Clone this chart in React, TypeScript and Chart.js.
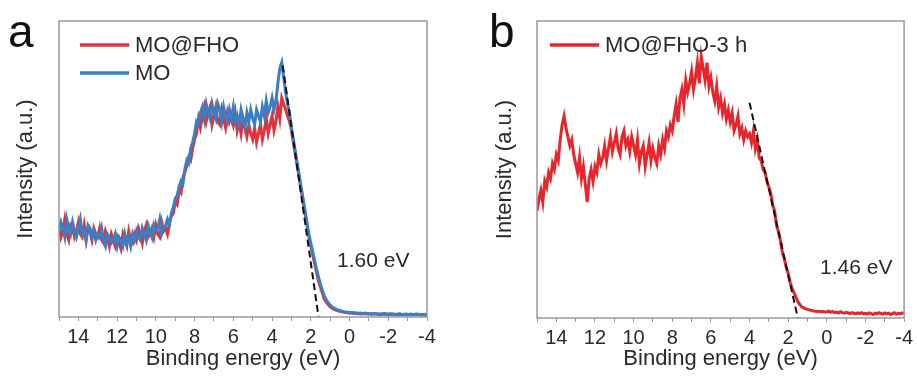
import React, { useEffect, useRef } from 'react';
import { Chart, registerables } from 'chart.js';
Chart.register(...registerables);

// Binding energy sampling grid (eV), 15 -> -4
const ENERGY = [
  15.0, 14.9, 14.8, 14.7, 14.6, 14.5, 14.4, 14.3, 14.2, 14.1,
  14.0, 13.9, 13.8, 13.7, 13.6, 13.5, 13.4, 13.3, 13.2, 13.1,
  13.0, 12.9, 12.8, 12.7, 12.6, 12.5, 12.4, 12.3, 12.2, 12.1,
  12.0, 11.9, 11.8, 11.7, 11.6, 11.5, 11.4, 11.3, 11.2, 11.1,
  11.0, 10.9, 10.8, 10.7, 10.6, 10.5, 10.4, 10.3, 10.2, 10.1,
  10.0, 9.9, 9.8, 9.7, 9.6, 9.5, 9.4, 9.3, 9.2, 9.1,
  9.0, 8.9, 8.8, 8.7, 8.6, 8.5, 8.4, 8.3, 8.2, 8.1,
  8.0, 7.9, 7.8, 7.7, 7.6, 7.5, 7.4, 7.3, 7.2, 7.1,
  7.0, 6.9, 6.8, 6.7, 6.6, 6.5, 6.4, 6.3, 6.2, 6.1,
  6.0, 5.9, 5.8, 5.7, 5.6, 5.5, 5.4, 5.3, 5.2, 5.1,
  5.0, 4.9, 4.8, 4.7, 4.6, 4.5, 4.4, 4.3, 4.2, 4.1,
  4.0, 3.9, 3.8, 3.7, 3.6, 3.5, 3.4, 3.3, 3.2, 3.1,
  3.0, 2.9, 2.8, 2.7, 2.6, 2.5, 2.4, 2.3, 2.2, 2.1,
  2.0, 1.9, 1.8, 1.7, 1.6, 1.5, 1.4, 1.3, 1.2, 1.1,
  1.0, 0.9, 0.8, 0.7, 0.6, 0.5, 0.4, 0.3, 0.2, 0.1,
  0.0, -0.1, -0.2, -0.3, -0.4, -0.5, -0.6, -0.7, -0.8, -0.9,
  -1.0, -1.1, -1.2, -1.3, -1.4, -1.5, -1.6, -1.7, -1.8, -1.9,
  -2.0, -2.1, -2.2, -2.3, -2.4, -2.5, -2.6, -2.7, -2.8, -2.9,
  -3.0, -3.1, -3.2, -3.3, -3.4, -3.5, -3.6, -3.7, -3.8, -3.9,
  -4.0,
];

// Panel a: MO@FHO
const MO_FHO = [
  31, 27, 29, 33, 28, 26, 31, 30, 27, 29,
  32, 28, 27, 31, 26, 30, 29, 26, 30, 28,
  27, 30, 26, 25, 29, 27, 24, 28, 26, 24,
  27, 25, 23, 28, 26, 24, 29, 26, 25, 28,
  26, 30, 28, 25, 29, 31, 27, 28, 30, 27,
  31, 28, 27, 32, 29, 30, 28, 32, 34, 35,
  39, 38, 43, 42, 47, 49, 51, 54, 53, 57,
  60, 62, 67, 64, 68, 71, 66, 69, 71, 65,
  68, 71, 66, 65, 70, 67, 64, 69, 66, 68,
  65, 69, 63, 66, 62, 67, 64, 61, 65, 62,
  60, 64, 59, 62, 65, 60, 63, 67, 62, 65,
  68, 63, 66, 71, 67, 74, 72, 70, 68, 66,
  63, 59, 55, 51, 47, 43, 39, 35, 31, 27,
  24, 21, 18, 15, 12, 10, 8, 6, 5, 4.2,
  3.4, 3.0, 2.6, 2.3, 2.1, 1.9, 1.8, 1.6, 1.5, 1.4,
  1.3, 1.4, 1.2, 1.3, 1.1, 1.2, 1.0, 1.2, 1.1, 1.0,
  1.1, 0.9, 1.0, 1.1, 0.9, 1.0, 0.8, 1.0, 0.9, 1.0,
  0.8, 0.9, 1.0, 0.8, 0.9, 0.7, 0.9, 0.8, 0.9, 0.7,
  0.8, 0.9, 0.7, 0.8, 0.9, 0.7, 0.8, 0.6, 0.8, 0.7,
  0.7,
];

// Panel a: MO
const MO = [
  29, 32, 30, 27, 33, 30, 28, 32, 29, 27,
  30, 33, 28, 29, 26, 31, 30, 27, 29, 26,
  28, 27, 30, 26, 24, 28, 27, 25, 26, 28,
  24, 27, 26, 24, 28, 25, 27, 24, 28, 26,
  29, 27, 26, 30, 28, 26, 31, 29, 27, 31,
  29, 30, 33, 28, 30, 31, 33, 31, 35, 37,
  40, 41, 44, 46, 45, 50, 53, 52, 57, 59,
  62, 66, 65, 69, 71, 67, 72, 69, 67, 72,
  69, 67, 72, 70, 66, 71, 68, 66, 70, 67,
  71, 66, 68, 65, 70, 67, 64, 69, 66, 70,
  67, 65, 70, 68, 66, 71, 68, 73, 69, 71,
  74, 70, 73, 79, 84, 86, 81, 76, 72, 69,
  64, 60, 56, 52, 48, 44, 40, 36, 32, 28,
  25, 22, 19, 16, 13.5, 11, 9, 7, 5.8, 4.8,
  4.0, 3.4, 3.0, 2.6, 2.4, 2.2, 2.0, 1.8, 1.7, 1.6,
  1.5, 1.4, 1.5, 1.3, 1.4, 1.2, 1.3, 1.1, 1.3, 1.2,
  1.1, 1.2, 1.0, 1.2, 1.1, 0.9, 1.1, 1.0, 1.2, 0.9,
  1.0, 1.1, 0.9, 1.0, 0.8, 1.0, 1.1, 0.9, 0.8, 1.0,
  0.9, 0.8, 1.0, 0.8, 0.9, 1.0, 0.8, 0.9, 0.7, 0.9,
  0.8,
];

// Panel b: MO@FHO-3 h
const MO_FHO_3H = [
  36, 40, 43, 39, 46, 44, 49, 47, 52, 50,
  55, 53, 60, 65, 68, 64, 61, 58, 60, 55,
  52, 49, 54, 47, 51, 45, 39, 47, 50, 46,
  51, 49, 55, 52, 54, 58, 53, 57, 61, 56,
  59, 62, 57, 55, 61, 63, 58, 60, 56, 61,
  58, 55, 60, 52, 56, 58, 51, 55, 59, 53,
  57, 54, 52, 58, 55, 60, 57, 63, 61, 65,
  63, 68, 72, 66, 74, 77, 72, 80, 76, 79,
  83, 77, 81, 86, 79, 88, 84, 80, 86, 78,
  81, 76, 73, 78, 71, 74, 69, 72, 67, 70,
  66, 69, 63, 65, 68, 62, 64, 60, 63, 61,
  62, 59, 63, 57, 60, 54, 53, 50, 49, 46,
  44, 42, 38, 36, 31, 29, 26, 22, 20, 17,
  15, 12, 10, 8.5, 7, 5.5, 4.5, 3.8, 3.4, 3.1,
  2.9, 2.7, 2.6, 2.4, 2.3, 2.2, 2.3, 2.1, 2.2, 2.0,
  2.1, 2.3, 1.9, 2.2, 1.8, 2.0, 1.7, 2.1, 1.8, 1.6,
  1.9, 1.7, 1.5, 1.8, 1.6, 1.4, 1.7, 1.5, 1.8, 1.4,
  1.6, 1.3, 1.7, 1.5, 1.2, 1.6, 1.4, 1.8, 1.5, 1.3,
  1.7, 1.4, 1.6, 1.2, 1.5, 1.8, 1.3, 1.6, 1.4, 1.7,
  1.5,
];

// Linear-edge extrapolation (dashed) lines
const TANGENT_A_X = [3.45, 1.6];
const TANGENT_A_Y = [85, 0];
const TANGENT_B_X = [4.0, 1.5];
const TANGENT_B_Y = [72.5, 0];

const X_TICK_LABELS = [14, 12, 10, 8, 6, 4, 2, 0, -2, -4];
const GAP_LABELS = ['1.60 eV', '1.46 eV'];
const PANEL_LABELS = ['a', 'b'];
const SERIES_LABELS = ['MO@FHO', 'MO', 'MO@FHO-3 h'];

const FONT = "'Liberation Sans', Arial, sans-serif";
const TEXT = '#2a2a2a';
const FRAME = '#9a9a9a';
const RED_A = '#e0333a';
const BLUE = '#3a7ec6';
const RED_B = '#e8252b';

const pts = (xs: number[], ys: number[]) => xs.map((x, i) => ({ x, y: ys[i] }));

type PanelCfg = {
  letter: string;
  letterX: number;
  gap: string;
  gapX: number;
  gapY: number;
  yAxisWidth: number;
  xAxisHeight: number;
  rightPad: number;
  yTitlePad: number;
  legendX: number;
  datasets: any[];
};

function makeConfig(p: PanelCfg): any {
  const decor = {
    id: 'decor',
    afterDraw(chart: any) {
      const { ctx, chartArea } = chart;
      ctx.save();
      // frame
      ctx.strokeStyle = FRAME;
      ctx.lineWidth = 1.5;
      ctx.strokeRect(chartArea.left, chartArea.top, chartArea.right - chartArea.left, chartArea.bottom - chartArea.top);
      // panel letter
      ctx.fillStyle = '#111';
      ctx.font = `46px ${FONT}`;
      ctx.textBaseline = 'alphabetic';
      ctx.textAlign = 'left';
      ctx.fillText(p.letter, p.letterX, 47);
      // legend
      ctx.font = `22px ${FONT}`;
      ctx.textBaseline = 'middle';
      let row = 0;
      chart.data.datasets.forEach((ds: any) => {
        if (!ds.showInLegend) return;
        const y = 45 + row * 28;
        ctx.strokeStyle = ds.borderColor;
        ctx.lineWidth = 3.5;
        ctx.setLineDash([]);
        ctx.beginPath();
        ctx.moveTo(p.legendX, y);
        ctx.lineTo(p.legendX + 49, y);
        ctx.stroke();
        ctx.fillStyle = TEXT;
        ctx.fillText(ds.label, p.legendX + 55, y + 1);
        row++;
      });
      // gap annotation
      ctx.font = `21px ${FONT}`;
      ctx.fillStyle = TEXT;
      ctx.fillText(p.gap, p.gapX, p.gapY);
      ctx.restore();
    },
  };

  return {
    type: 'line',
    data: { datasets: p.datasets },
    plugins: [decor],
    options: {
      animation: false,
      responsive: false,
      devicePixelRatio: 1,
      events: [],
      layout: { padding: { top: 21, right: p.rightPad, left: 0, bottom: 0 } },
      plugins: { legend: { display: false }, tooltip: { enabled: false } },
      elements: { point: { radius: 0 }, line: { tension: 0 } },
      scales: {
        x: {
          type: 'linear',
          min: -4,
          max: 15,
          reverse: true,
          afterFit: (s: any) => { s.height = p.xAxisHeight; },
          border: { display: false },
          grid: { display: true, drawOnChartArea: false, drawTicks: true, tickLength: 4, color: FRAME, lineWidth: 1 },
          ticks: {
            stepSize: 1,
            autoSkip: false,
            maxRotation: 0,
            padding: 4,
            color: TEXT,
            font: { family: FONT, size: 20 },
            callback: (v: number) => (X_TICK_LABELS.includes(v) ? String(v) : ''),
          },
          title: {
            display: true,
            text: 'Binding energy (eV)',
            color: TEXT,
            font: { family: FONT, size: 22 },
            padding: { top: 0, bottom: 8 },
          },
        },
        y: {
          type: 'linear',
          min: 0,
          max: 100,
          afterFit: (s: any) => { s.width = p.yAxisWidth; },
          border: { display: false },
          grid: { display: false },
          ticks: { display: false },
          title: {
            display: true,
            text: 'Intensity (a.u.)',
            color: TEXT,
            font: { family: FONT, size: 22 },
            padding: { top: p.yTitlePad, bottom: 0 },
          },
        },
      },
    },
  };
}

function Panel({ cfg, width, left }: { cfg: PanelCfg; width: number; left: number }) {
  const ref = useRef<HTMLCanvasElement>(null);
  useEffect(() => {
    if (!ref.current) return;
    const chart = new Chart(ref.current, makeConfig(cfg));
    return () => chart.destroy();
  }, []);
  return (
    <canvas
      ref={ref}
      width={width}
      height={380}
      style={{ position: 'absolute', left, top: 0, width, height: 380, display: 'block' }}
    />
  );
}

const panelA: PanelCfg = {
  letter: PANEL_LABELS[0],
  letterX: 8,
  gap: GAP_LABELS[0],
  gapX: 337,
  gapY: 261,
  yAxisWidth: 59,
  xAxisHeight: 63,
  rightPad: 30,
  yTitlePad: 13,
  legendX: 80,
  datasets: [
    { label: SERIES_LABELS[0], data: pts(ENERGY, MO_FHO), borderColor: RED_A, borderWidth: 3, order: 1, showInLegend: true },
    { label: SERIES_LABELS[1], data: pts(ENERGY, MO), borderColor: BLUE, borderWidth: 3, order: 0, showInLegend: true },
    { label: 'fit', data: pts(TANGENT_A_X, TANGENT_A_Y), borderColor: '#111', borderWidth: 2, borderDash: [7, 4], order: -1, showInLegend: false },
  ],
};

const panelB: PanelCfg = {
  letter: PANEL_LABELS[1],
  letterX: 32,
  gap: GAP_LABELS[1],
  gapX: 363,
  gapY: 268,
  yAxisWidth: 80,
  xAxisHeight: 62,
  rightPad: 10,
  yTitlePad: 35,
  legendX: 93,
  datasets: [
    { label: SERIES_LABELS[2], data: pts(ENERGY, MO_FHO_3H), borderColor: RED_B, borderWidth: 3, order: 1, showInLegend: true },
    { label: 'fit', data: pts(TANGENT_B_X, TANGENT_B_Y), borderColor: '#111', borderWidth: 2, borderDash: [7, 4], order: -1, showInLegend: false },
  ],
};

export default function App() {
  return (
    <div style={{ position: 'fixed', left: 0, top: 0, width: 917, height: 380, background: '#fff', overflow: 'hidden' }}>
      <Panel cfg={panelA} width={457} left={0} />
      <Panel cfg={panelB} width={460} left={457} />
    </div>
  );
}
